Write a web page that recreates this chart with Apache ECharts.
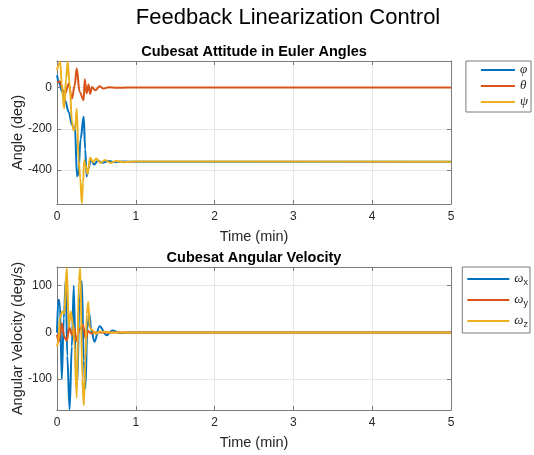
<!DOCTYPE html>
<html>
<head>
<meta charset="utf-8">
<script src="https://cdn.jsdelivr.net/npm/echarts@6.0.0/dist/echarts.min.js"></script>
<style>
html,body{margin:0;padding:0;background:#fff;}
#c{width:534px;height:455px;}
</style>
</head>
<body>
<div id="c"></div>
<script>
// ---- Data (time in minutes) ----
// Euler angles (deg)
const phiT = [0, 0.03, 0.065, 0.1, 0.15, 0.19, 0.228, 0.254, 0.27, 0.30, 0.338, 0.358, 0.376, 0.40, 0.43, 0.47, 0.52, 0.58, 0.65, 0.73, 0.85, 1.0, 5];
const phiV = [60, 20, -20, -60, -120, -182, -197, -431, -420, -250, -140, -300, -431, -390, -350, -373, -355, -365, -356, -362, -359, -360, -360];
const thetaT = [0, 0.042, 0.07, 0.105, 0.147, 0.19, 0.224, 0.25, 0.287, 0.338, 0.352, 0.376, 0.40, 0.42, 0.444, 0.486, 0.54, 0.59, 0.66, 0.75, 0.9, 5];
const thetaV = [27, 30, -10, -29, 19, -53, 10, 92, -21, -61, 40, -28, 15, -30, 3, -13, 6, -5, 2, -1, 0, 0];
const psiT = [0, 0.02, 0.04, 0.06, 0.09, 0.115, 0.135, 0.16, 0.19, 0.21, 0.23, 0.25, 0.275, 0.295, 0.315, 0.33, 0.345, 0.36, 0.388, 0.42, 0.46, 0.50, 0.55, 0.61, 0.68, 0.75, 0.85, 1.0, 5];
const psiV = [84, 110, 126, 20, -102, 40, 127, 19, -166, -207, -199, -102, -352, -440, -562, -460, -352, -376, -420, -339, -362, -344, -365, -352, -366, -356, -362, -359, -360];
// Angular velocity (deg/s)
const wxT = [0, 0.017, 0.036, 0.061, 0.086, 0.112, 0.13, 0.16, 0.188, 0.213, 0.239, 0.258, 0.283, 0.315, 0.34, 0.36, 0.385, 0.41, 0.435, 0.475, 0.54, 0.63, 0.70, 0.80, 0.93, 5];
const wxV = [0, 70, 65, -100, 30, 115, -50, -165, -30, 100, -90, -110, 60, 110, -60, -120, 10, 40, 5, -20, 13, -6, 4, -1, 0, 0];
const wyT = [0, 0.023, 0.061, 0.093, 0.124, 0.156, 0.188, 0.22, 0.245, 0.283, 0.327, 0.365, 0.397, 0.435, 0.486, 5];
const wyV = [-5, -20, 19, -10, -18, 12, -5, 10, -18, 5, 17, -14, 3, -2, 0, 0];
const wzT = [0, 0.017, 0.036, 0.067, 0.093, 0.124, 0.15, 0.175, 0.2, 0.22, 0.251, 0.277, 0.296, 0.321, 0.34, 0.36, 0.378, 0.397, 0.416, 0.448, 0.486, 0.55, 0.68, 5];
const wzV = [-30, -20, 30, 45, 40, 139, 10, 45, 20, -20, -140, 110, 138, -100, -156, -60, 40, 65, 10, 5, -3, 2, 0, 0];

const mainTitle = 'Feedback Linearization Control';
const title1 = 'Cubesat Attitude in Euler Angles';
const title2 = 'Cubesat Angular Velocity';
const xName = 'Time (min)';
const yName1 = 'Angle (deg)';
const yName2 = 'Angular Velocity (deg/s)';
const names1 = ['φ', 'θ', 'ψ'];
const names2 = ['ωx', 'ωy', 'ωz'];
const colors = ['#0072BD', '#D95319', '#EDB120'];

const pairs = (t, v) => t.map((x, i) => [x, v[i]]);

const FONT = 'Liberation Sans, Arial, Helvetica, sans-serif';
const SERIF = 'Liberation Serif, DejaVu Serif, serif';
const BOX = '#7a7a7a';
const TXT = '#262626';
const GRIDC = '#e6e6e6';

function mainX(gi) {
  return {
    type: 'value', gridIndex: gi, min: 0, max: 5, interval: 1, position: 'bottom',
    name: xName, nameLocation: 'middle', nameGap: 25, nameMoveOverlap: false,
    nameTextStyle: {fontFamily: FONT, fontSize: 14.5, color: TXT},
    axisLine: {show: true, onZero: false, lineStyle: {color: BOX, width: 1}},
    axisTick: {show: true, inside: true, length: 4, lineStyle: {color: BOX}},
    axisLabel: {fontFamily: FONT, fontSize: 12, color: TXT, margin: 7},
    splitLine: {show: true, lineStyle: {color: GRIDC, width: 1}}
  };
}
function mirrorX(gi) {
  return {
    type: 'value', gridIndex: gi, min: 0, max: 5, interval: 1, position: 'top',
    axisLine: {show: true, onZero: false, lineStyle: {color: BOX, width: 1}},
    axisTick: {show: true, inside: true, length: 4, lineStyle: {color: BOX}},
    axisLabel: {show: false}, splitLine: {show: false}
  };
}
function mainY(gi, mn, mx, nm) {
  return {
    type: 'value', gridIndex: gi, min: mn, max: mx, splitNumber: 3, position: 'left',
    name: nm, nameLocation: 'middle', nameGap: 32, nameRotate: 90, nameMoveOverlap: false,
    nameTextStyle: {fontFamily: FONT, fontSize: 14.5, color: TXT},
    axisLine: {show: true, onZero: false, lineStyle: {color: BOX, width: 1}},
    axisTick: {show: true, inside: true, length: 4, lineStyle: {color: BOX}},
    axisLabel: {fontFamily: FONT, fontSize: 12, color: TXT, margin: 5, showMinLabel: false, showMaxLabel: false},
    splitLine: {show: true, lineStyle: {color: GRIDC, width: 1}}
  };
}
function mirrorY(gi, mn, mx) {
  return {
    type: 'value', gridIndex: gi, min: mn, max: mx, splitNumber: 3, position: 'right',
    axisLine: {show: true, onZero: false, lineStyle: {color: BOX, width: 1}},
    axisTick: {show: true, inside: true, length: 4, lineStyle: {color: BOX}},
    axisLabel: {show: false}, splitLine: {show: false}
  };
}
function line(name, data, color, xi, yi) {
  return {
    type: 'line', name: name, data: data, xAxisIndex: xi, yAxisIndex: yi,
    showSymbol: false, symbol: 'none', smooth: 0.35, smoothMonotone: 'x',
    lineStyle: {color: color, width: 2}, itemStyle: {color: color},
    clip: true, animation: false, silent: true
  };
}

const chart = echarts.init(document.getElementById('c'), null, {renderer: 'canvas'});

chart.setOption({
  animation: false,
  backgroundColor: '#ffffff',
  grid: [
    {left: 57, top: 61, width: 394, height: 143, show: false, containLabel: false, outerBoundsMode: 'none'},
    {left: 57, top: 267, width: 394, height: 143, show: false, containLabel: false, outerBoundsMode: 'none'}
  ],
  xAxis: [mainX(0), mirrorX(0), mainX(1), mirrorX(1)],
  yAxis: [mainY(0, -565, 129, yName1), mirrorY(0, -565, 129), mainY(1, -166, 140, yName2), mirrorY(1, -166, 140)],
  legend: [
    {
      data: names1, orient: 'vertical', right: 3, top: 61,
      padding: [2, 3, 3, 14], itemGap: 2, itemWidth: 34, itemHeight: 14,
      borderColor: BOX, borderWidth: 1, backgroundColor: '#fff',
      itemStyle: {opacity: 0, borderWidth: 0},
      textStyle: {fontFamily: SERIF, fontStyle: 'italic', fontSize: 13, color: TXT, lineHeight: 14},
      selectedMode: false
    },
    {
      data: names2, orient: 'vertical', right: 4, top: 267,
      padding: [3, 2, 3, 4], itemGap: 3, itemWidth: 42, itemHeight: 18,
      borderColor: BOX, borderWidth: 1, backgroundColor: '#fff',
      itemStyle: {opacity: 0, borderWidth: 0},
      selectedMode: false,
      formatter: function (n) { return '{w|ω}{s|' + n.slice(1) + '}'; },
      textStyle: {
        color: TXT, lineHeight: 18,
        rich: {
          w: {fontFamily: SERIF, fontStyle: 'italic', fontSize: 13, color: TXT},
          s: {fontFamily: FONT, fontSize: 9, color: TXT, padding: [7, 0, 0, 0]}
        }
      }
    }
  ],
  series: [
    line(names1[0], pairs(phiT, phiV), colors[0], 0, 0),
    line(names1[1], pairs(thetaT, thetaV), colors[1], 0, 0),
    line(names1[2], pairs(psiT, psiV), colors[2], 0, 0),
    line(names2[0], pairs(wxT, wxV), colors[0], 2, 2),
    line(names2[1], pairs(wyT, wyV), colors[1], 2, 2),
    line(names2[2], pairs(wzT, wzV), colors[2], 2, 2)
  ],
  graphic: [
    {type: 'text', x: 288, y: 18, silent: true, style: {text: mainTitle, fontFamily: FONT, fontSize: 22, fill: '#000', align: 'center', verticalAlign: 'middle'}},
    {type: 'text', x: 254, y: 52, silent: true, style: {text: title1, fontFamily: FONT, fontSize: 14.5, fontWeight: 'bold', fill: '#000', align: 'center', verticalAlign: 'middle'}},
    {type: 'text', x: 254, y: 258, silent: true, style: {text: title2, fontFamily: FONT, fontSize: 14.5, fontWeight: 'bold', fill: '#000', align: 'center', verticalAlign: 'middle'}}
  ]
});
</script>
</body>
</html>
